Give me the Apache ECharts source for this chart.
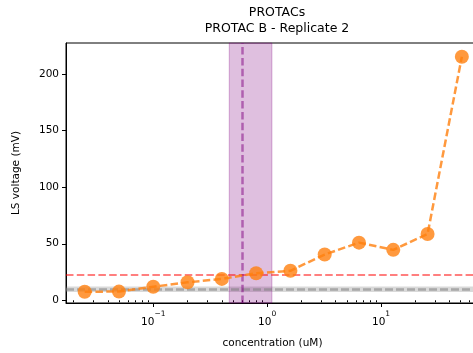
<!DOCTYPE html>
<html>
<head>
<meta charset="utf-8">
<script src="https://cdn.jsdelivr.net/npm/echarts@6/dist/echarts.min.js"></script>
<style>
  html, body { margin: 0; padding: 0; background: #fff; }
  #chart { width: 473px; height: 353px; }
</style>
</head>
<body>
<div id="chart"></div>
<script>
// data
const concentration = [0.025, 0.05, 0.1, 0.2, 0.4, 0.8, 1.6, 3.2, 6.4, 12.8, 25.6, 51.2];
const voltage = [7.6, 7.7, 12.0, 15.9, 18.9, 23.9, 26.1, 40.5, 51.0, 44.6, 58.7, 215.5];
const xMajorTicks = [0.1, 1, 10];
const xMinorTicks = [0.02, 0.03, 0.04, 0.05, 0.06, 0.07, 0.08, 0.09,
  0.2, 0.3, 0.4, 0.5, 0.6, 0.7, 0.8, 0.9,
  2, 3, 4, 5, 6, 7, 8, 9,
  20, 30, 40, 50, 60, 70];
const yTicks = [0, 50, 100, 150, 200];
const threshold = 22.4;          // red dashed line
const baselineMean = 9.75;       // gray dashed line
const baselineBand = [7.4, 12.1];
const ec50 = 0.613;              // purple dashed line
const ec50Band = [0.465, 1.10];

const font = 'DejaVu Sans';
const chart = echarts.init(document.getElementById('chart'));

const option = {
  backgroundColor: '#fff',
  animation: false,
  title: {
    text: 'PROTACs\nPROTAC B - Replicate 2',
    left: 272,
    top: -1,
    textAlign: 'center',
    textStyle: {
      fontFamily: font,
      fontSize: 12.5,
      fontWeight: 'normal',
      color: '#000',
      lineHeight: 16.5
    }
  },
  grid: {
    left: 66,
    top: 43,
    width: 413,
    height: 260,
    outerBoundsMode: 'none',
    containLabel: false,
    show: true,
    borderColor: '#000',
    borderWidth: 1
  },
  xAxis: [
    {
      type: 'log',
      logBase: 10,
      min: 0.01714,
      max: 72.4,
      name: 'concentration (uM)',
      nameLocation: 'middle',
      nameGap: 35,
      nameTextStyle: { fontFamily: font, fontSize: 10.5, color: '#000' },
      axisLine: { show: true, onZero: false, lineStyle: { color: '#000', width: 1 } },
      axisTick: { show: true, length: 4, customValues: xMajorTicks, lineStyle: { color: '#000' } },
      axisLabel: {
        customValues: xMajorTicks,
        margin: 7,
        formatter: v => '{b|10}{s|' + String(Math.round(Math.log10(v))).replace('-', '\u2212') + '}',
        rich: {
          b: { fontFamily: font, fontSize: 10.5, color: '#000', lineHeight: 18, verticalAlign: 'bottom' },
          s: { fontFamily: font, fontSize: 7.5, color: '#000', lineHeight: 18, verticalAlign: 'top' }
        }
      },
      splitLine: { show: false }
    },
    {
      type: 'log',
      logBase: 10,
      min: 0.01714,
      max: 72.4,
      position: 'bottom',
      axisLine: { show: false },
      axisTick: { show: true, length: 2, customValues: xMinorTicks, lineStyle: { color: '#000' } },
      axisLabel: { show: false },
      splitLine: { show: false }
    }
  ],
  yAxis: {
    type: 'value',
    min: -2.4,
    max: 227.6,
    name: 'LS voltage (mV)',
    nameLocation: 'middle',
    nameGap: 44,
    nameRotate: 90,
    nameTextStyle: { fontFamily: font, fontSize: 10.5, color: '#000' },
    axisLine: { show: true, onZero: false, lineStyle: { color: '#000', width: 1 } },
    axisTick: { show: true, length: 4, customValues: yTicks, lineStyle: { color: '#000' } },
    axisLabel: {
      customValues: yTicks,
      margin: 7,
      fontFamily: font,
      fontSize: 10.5,
      color: '#000'
    },
    splitLine: { show: false }
  },
  series: [
    {
      name: 'bands',
      type: 'line',
      data: [],
      silent: true,
      z: 1,
      markArea: {
        silent: true,
        data: [
          [
            { yAxis: baselineBand[0], itemStyle: { color: 'rgba(128,128,128,0.3)', borderWidth: 0 } },
            { yAxis: baselineBand[1] }
          ],
          [
            { xAxis: ec50Band[0], itemStyle: { color: 'rgba(128,0,128,0.25)', borderColor: 'rgba(128,0,128,0.3)', borderWidth: 1 } },
            { xAxis: ec50Band[1] }
          ]
        ]
      },
      markLine: {
        silent: true,
        symbol: 'none',
        label: { show: false },
        data: [
          { yAxis: baselineMean, lineStyle: { color: 'rgba(128,128,128,0.55)', width: 2.5, type: [8, 3] } },
          { yAxis: threshold, lineStyle: { color: 'rgba(255,0,0,0.5)', width: 2, type: [7.5, 3.3] } },
          { xAxis: ec50, lineStyle: { color: 'rgba(128,0,128,0.5)', width: 2.5, type: [7.5, 3.3] } }
        ]
      }
    },
    {
      name: 'LS voltage',
      type: 'line',
      z: 5,
      data: concentration.map((c, i) => [c, voltage[i]]),
      symbol: 'circle',
      symbolSize: 14,
      itemStyle: { color: 'rgba(255,127,14,0.8)', borderWidth: 0 },
      lineStyle: { color: 'rgba(255,127,14,0.8)', width: 2.5, type: [7.5, 3.3] }
    }
  ]
};

chart.setOption(option);
</script>
</body>
</html>
